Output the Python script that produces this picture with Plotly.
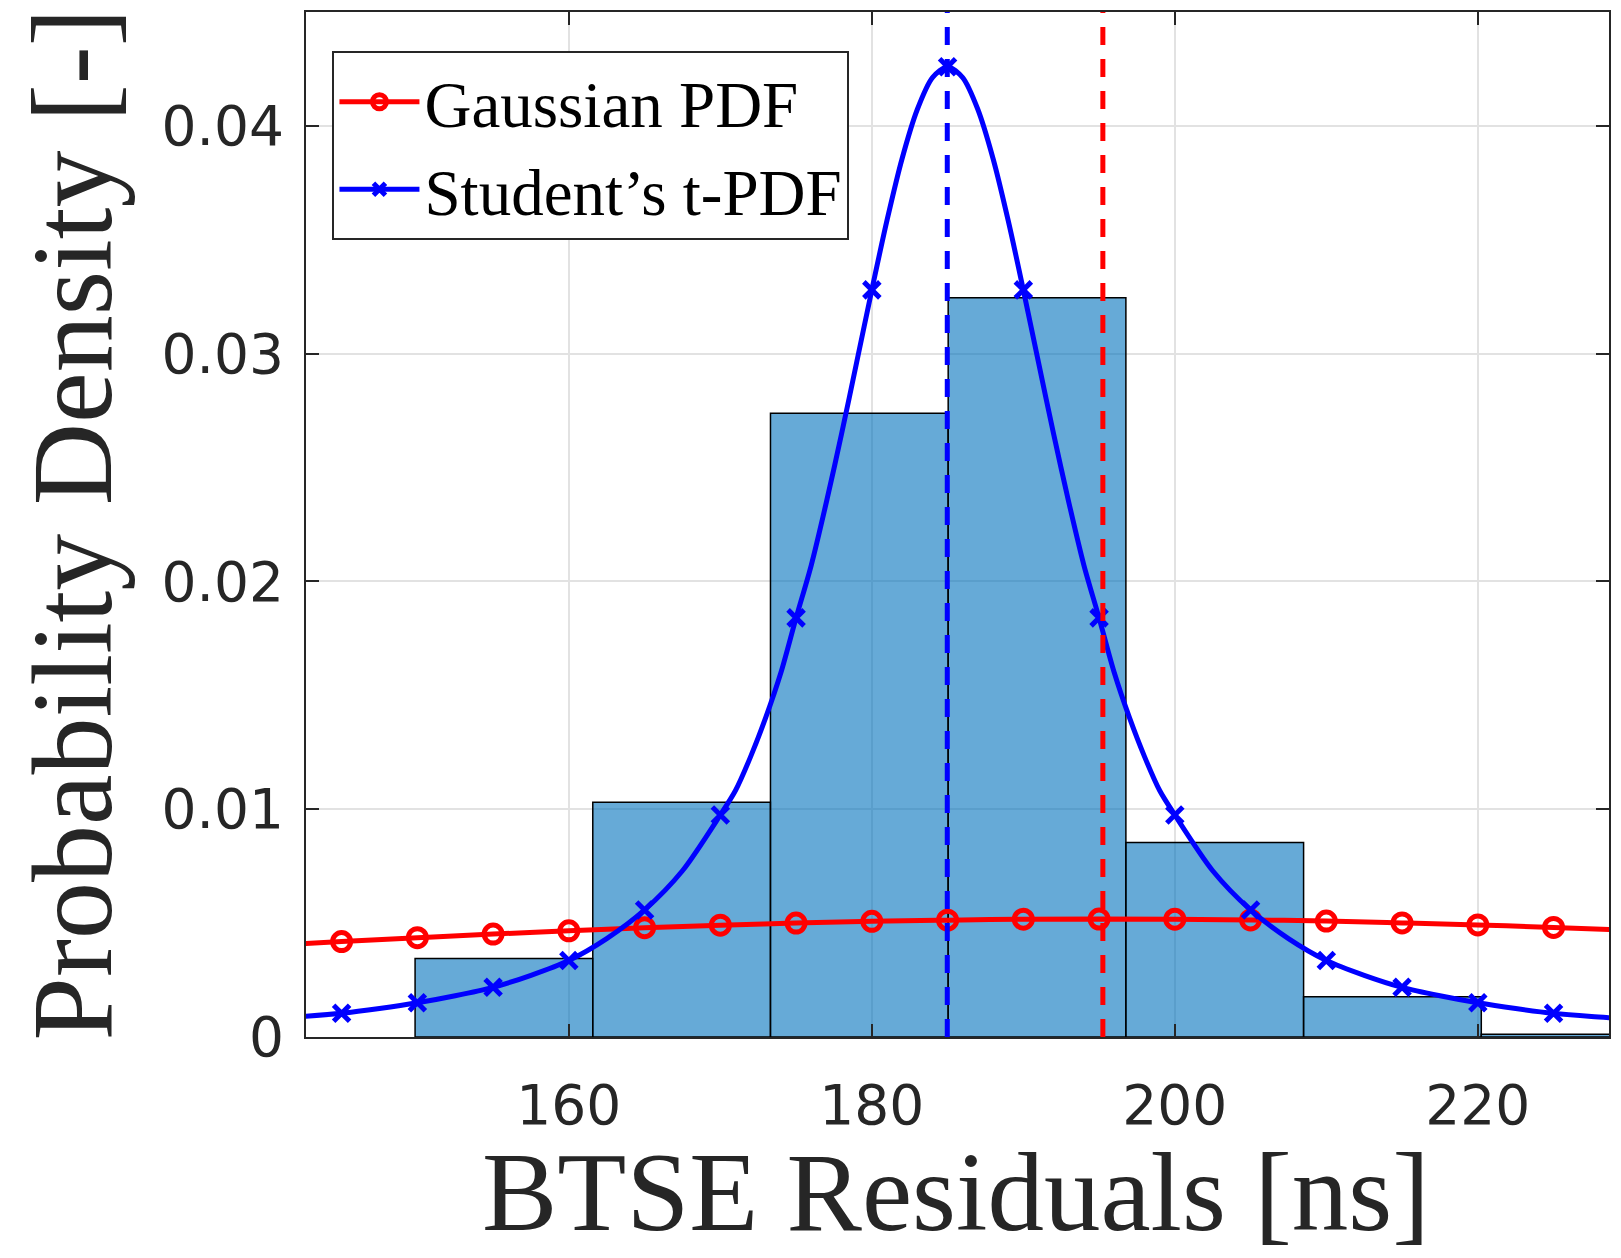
import plotly.graph_objects as go

# ---------------- data ----------------
bin_edges = [149.85, 161.58, 173.31, 185.04, 196.77, 208.50, 220.23, 231.96]
bin_density = [0.00345, 0.01031, 0.02738, 0.03246, 0.00854, 0.00177, 0.00012]

t_curve_x = [140, 142.5, 145, 147.5, 150, 152.5, 155, 157.5, 160, 162.5, 165, 167.5,
             170, 171, 172, 173, 174, 175, 176, 177, 178, 179, 180, 181, 182, 183, 184,
             185, 186, 187, 188, 189, 190, 191, 192, 193, 194, 195, 196, 197, 198, 199,
             200, 202.5, 205, 207.5, 210, 212.5, 215, 217.5, 220, 222.5, 225, 227.5, 230]
t_curve_y = [0.00079, 0.00090, 0.00104, 0.00125, 0.00150, 0.00181, 0.00218, 0.00271,
             0.00336, 0.00432, 0.00558, 0.00730,
             0.00975, 0.01082, 0.01231, 0.01403, 0.01600, 0.01840, 0.02071, 0.02348,
             0.02647, 0.02962, 0.03280, 0.03585, 0.03857, 0.04072, 0.04212,
             0.04260,
             0.04212, 0.04072, 0.03857, 0.03585, 0.03280, 0.02962, 0.02647, 0.02348,
             0.02071, 0.01840, 0.01600, 0.01403, 0.01231, 0.01082, 0.00975,
             0.00730, 0.00558, 0.00432, 0.00336, 0.00271, 0.00218, 0.00181,
             0.00150, 0.00125, 0.00104, 0.00090, 0.00079]
t_marker_x = [145, 150, 155, 160, 165, 170, 175, 180, 185, 190, 195, 200, 205, 210, 215, 220, 225]
t_marker_y = [0.00104, 0.00150, 0.00218, 0.00336, 0.00558, 0.00975, 0.01840, 0.03280, 0.04260,
              0.03280, 0.01840, 0.00975, 0.00558, 0.00336, 0.00218, 0.00150, 0.00104]

gauss_curve_x = [140, 145, 150, 155, 160, 165, 170, 175, 180, 185, 190, 195, 200,
                 205, 210, 215, 220, 225, 230]
gauss_curve_y = [0.00400, 0.00419, 0.00436, 0.00452, 0.00466, 0.00480, 0.00491, 0.00500,
                 0.00508, 0.00513, 0.00517, 0.00518, 0.00517, 0.00514, 0.00509, 0.00501,
                 0.00492, 0.00481, 0.00468]
gauss_marker_x = [145, 150, 155, 160, 165, 170, 175, 180, 185, 190, 195, 200, 205, 210, 215, 220, 225]
gauss_marker_y = [0.00419, 0.00436, 0.00452, 0.00466, 0.00480, 0.00491, 0.00500, 0.00508, 0.00513,
                  0.00517, 0.00518, 0.00517, 0.00514, 0.00509, 0.00501, 0.00492, 0.00481]

t_location = 184.98
gauss_mean = 195.25

x_range = [142.65, 228.66]
y_range = [0, 0.045]
x_ticks = [160, 180, 200, 220]
x_ticklabels = ["160", "180", "200", "220"]
y_ticks = [0, 0.01, 0.02, 0.03, 0.04]
y_ticklabels = ["0", "0.01", "0.02", "0.03", "0.04"]

# ---------------- styles ----------------
BLUE = "rgb(0,0,255)"
RED = "rgb(255,0,0)"
AX = "#262626"
SERIF = "Liberation Serif"
SANS = "DejaVu Sans"
LW = 5

fig = go.Figure()

widths = [bin_edges[i + 1] - bin_edges[i] for i in range(len(bin_density))]
fig.add_trace(go.Bar(
    x=bin_edges[:-1], y=bin_density, width=widths, offset=0,
    marker=dict(color="rgba(0,114,189,0.6)", line=dict(color="black", width=1.5)),
    showlegend=False, hoverinfo="skip"))

# Gaussian
fig.add_trace(go.Scatter(x=gauss_curve_x, y=gauss_curve_y, mode="lines",
                         line=dict(color=RED, width=LW, shape="spline"),
                         showlegend=False))
fig.add_trace(go.Scatter(x=gauss_marker_x, y=gauss_marker_y, mode="markers",
                         marker=dict(symbol="circle-open", size=18, color=RED,
                                     line=dict(color=RED, width=LW)),
                         showlegend=False))
# Student's t
fig.add_trace(go.Scatter(x=t_curve_x, y=t_curve_y, mode="lines",
                         line=dict(color=BLUE, width=LW, shape="spline", smoothing=0.8),
                         showlegend=False))
fig.add_trace(go.Scatter(x=t_marker_x, y=t_marker_y, mode="markers",
                         marker=dict(symbol="x-thin-open", size=16, color=BLUE,
                                     line=dict(color=BLUE, width=LW)),
                         showlegend=False))

# vertical dashed lines
fig.add_trace(go.Scatter(x=[t_location, t_location], y=y_range, mode="lines",
                         line=dict(color=BLUE, width=LW, dash="18px,14px"), showlegend=False))
fig.add_trace(go.Scatter(x=[gauss_mean, gauss_mean], y=y_range, mode="lines",
                         line=dict(color=RED, width=LW, dash="18px,14px"), showlegend=False))

# legend entries
fig.add_trace(go.Scatter(x=[None], y=[None], mode="lines+markers", name="Gaussian PDF",
                         line=dict(color=RED, width=LW),
                         marker=dict(symbol="circle-open", size=14, color=RED,
                                     line=dict(color=RED, width=LW))))
fig.add_trace(go.Scatter(x=[None], y=[None], mode="lines+markers", name="Student\u2019s t-PDF",
                         line=dict(color=BLUE, width=LW),
                         marker=dict(symbol="x-thin-open", size=12, color=BLUE,
                                     line=dict(color=BLUE, width=LW))))

axis_common = dict(
    ticks="inside", ticklen=13, tickwidth=2, tickcolor=AX,
    showline=True, linewidth=2, linecolor=AX, mirror="allticks",
    showgrid=True, gridcolor="#e2e2e2", gridwidth=1.5, zeroline=False,
    tickfont=dict(family=SANS, size=55, color=AX),
)

fig.update_layout(
    width=1621, height=1258,
    margin=dict(l=306, r=10, t=12, b=221),
    paper_bgcolor="white", plot_bgcolor="white",
    barmode="overlay",
    xaxis=dict(range=x_range, tickvals=x_ticks, ticktext=x_ticklabels,
               ticklabelstandoff=19, **axis_common),
    yaxis=dict(range=y_range, tickvals=y_ticks, ticktext=y_ticklabels,
               ticklabelstandoff=9, **axis_common),
    legend=dict(x=0.0203, y=0.962, xanchor="left", yanchor="top",
                bgcolor="white", bordercolor=AX, borderwidth=2,
                font=dict(family=SERIF, size=65, color="black"),
                itemwidth=80, tracegroupgap=0),
    annotations=[
        dict(text="BTSE Residuals [ns]", xref="paper", yref="paper",
             x=0.4985, y=-0.151, xanchor="center", yanchor="middle", showarrow=False,
             font=dict(family=SERIF, size=113, color=AX)),
        dict(text="Probability Density [-]", xref="paper", yref="paper",
             x=-0.1785, y=0.5005, xanchor="center", yanchor="middle", showarrow=False,
             textangle=-90, font=dict(family=SERIF, size=114, color=AX)),
    ],
)

fig.write_html("out.html")
